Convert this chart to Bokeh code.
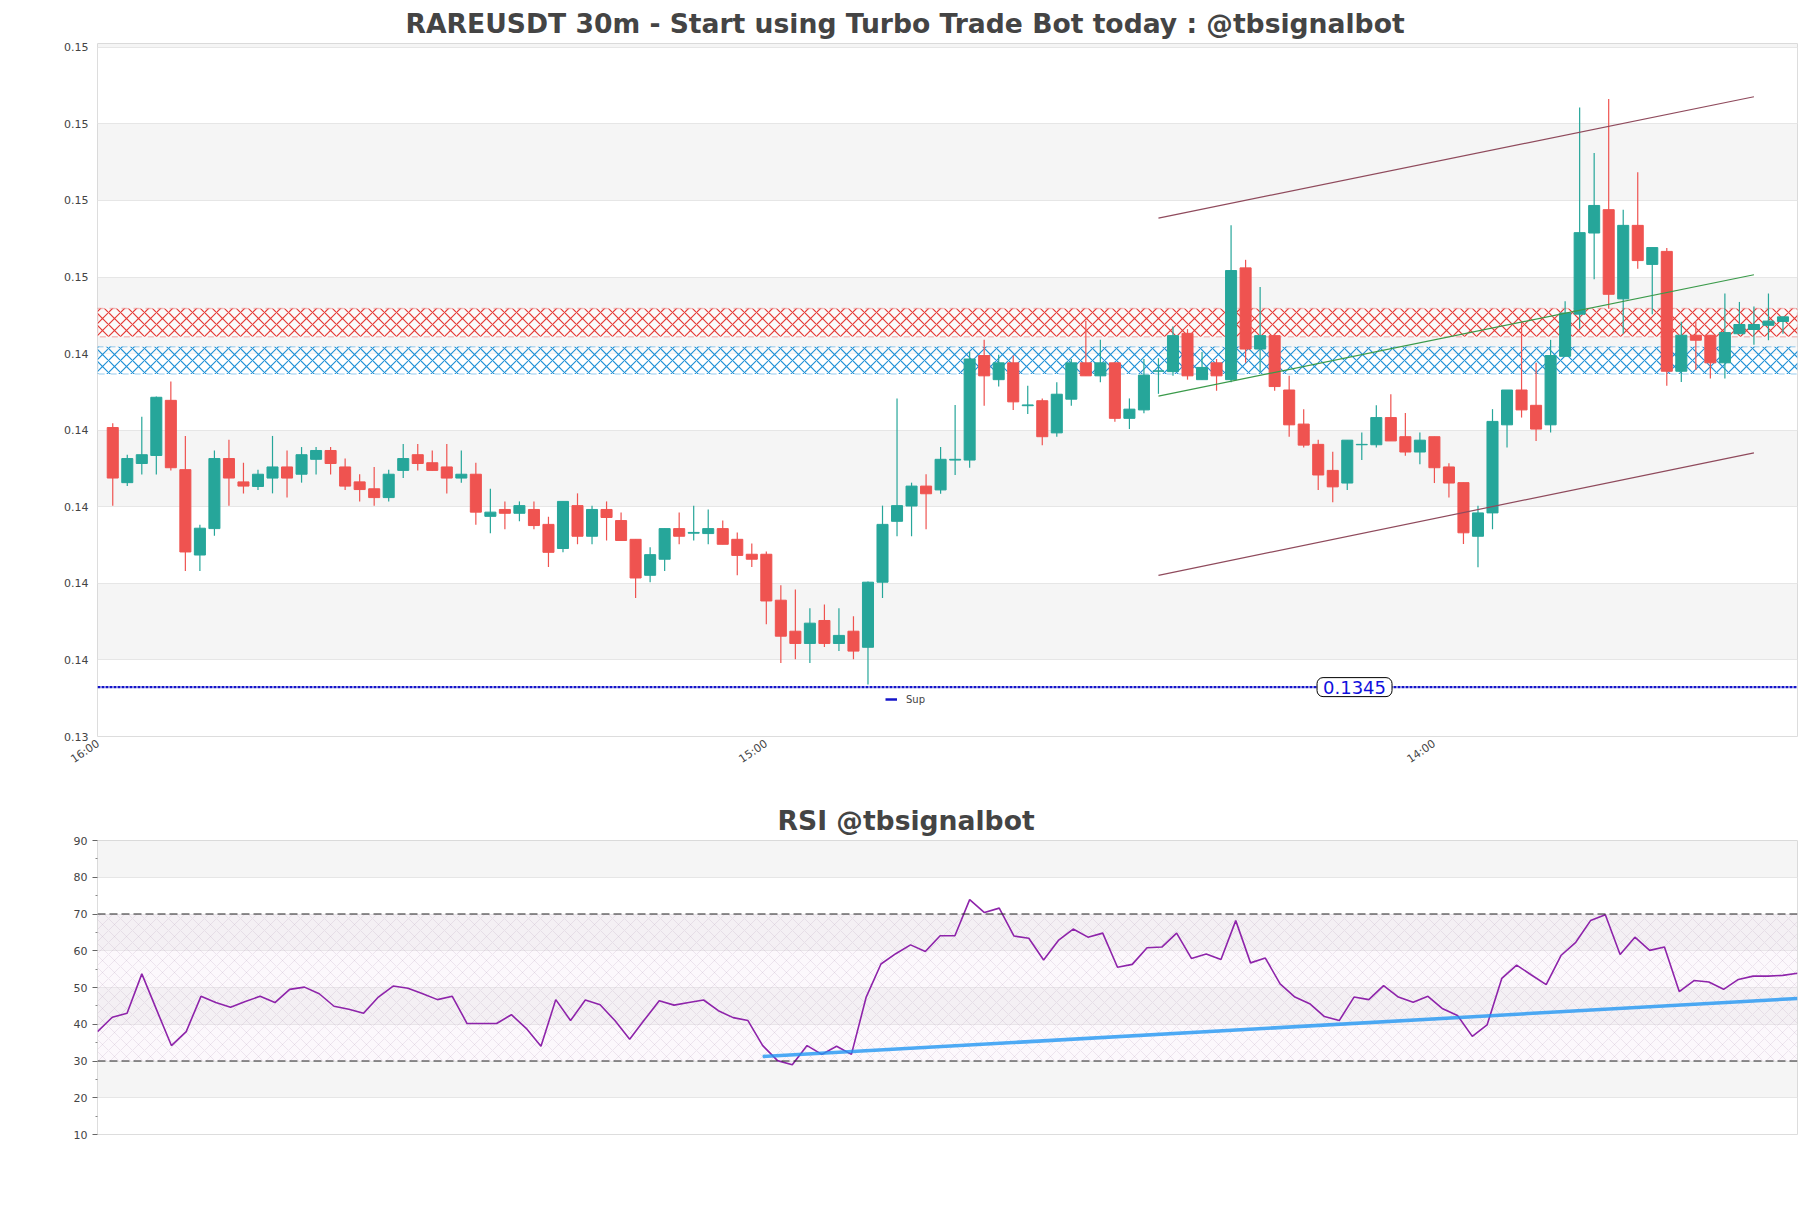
from bokeh.plotting import figure
from bokeh.models import (Range1d, FixedTicker, BoxAnnotation, Span, Label,
                          Legend, LegendItem, ColumnDataSource)
from bokeh.layouts import column
from bokeh.embed import file_html
from bokeh.resources import INLINE

# ---------------- data ----------------
opens = [0.14207, 0.14063, 0.14113, 0.14134, 0.14278, 0.14097, 0.13874, 0.13943, 0.14126, 0.14065,
         0.14053, 0.14075, 0.14104, 0.14085, 0.14124, 0.14147, 0.14104, 0.14065, 0.14047, 0.14024,
         0.14095, 0.14136, 0.14115, 0.14104, 0.14075, 0.14085, 0.13975, 0.13993, 0.13983, 0.13993,
         0.13954, 0.13891, 0.14003, 0.13923, 0.13993, 0.13964, 0.13915, 0.13821, 0.13863, 0.13943,
         0.13931, 0.13930, 0.13943, 0.13915, 0.13876, 0.13876, 0.13756, 0.13675, 0.13643, 0.13703,
         0.13643, 0.13675, 0.13633, 0.13803, 0.13962, 0.14002, 0.14054, 0.14044, 0.14122, 0.14122,
         0.14395, 0.14332, 0.14376, 0.14264, 0.14277, 0.14193, 0.14281, 0.14376, 0.14342, 0.14376,
         0.14231, 0.14253, 0.14354, 0.14353, 0.14453, 0.14332, 0.14376, 0.14332, 0.14624, 0.14412,
         0.14447, 0.14305, 0.14216, 0.14163, 0.14095, 0.14062, 0.14162, 0.14162, 0.14233, 0.14183,
         0.14143, 0.14183, 0.14104, 0.14063, 0.13923, 0.13984, 0.14214, 0.14305, 0.14265, 0.14214,
         0.14393, 0.14503, 0.14715, 0.14776, 0.14543, 0.14735, 0.14633, 0.14667, 0.14354, 0.14448,
         0.14448, 0.14376, 0.14452, 0.14463, 0.14474, 0.14484]
highs = [0.14218, 0.14136, 0.14235, 0.14288, 0.14327, 0.14185, 0.13953, 0.14147, 0.14175, 0.14115,
         0.14097, 0.14185, 0.14147, 0.14156, 0.14156, 0.14156, 0.14126, 0.14085, 0.14104, 0.14097,
         0.14164, 0.14164, 0.14147, 0.14164, 0.14147, 0.14115, 0.14047, 0.14014, 0.14014, 0.14014,
         0.13974, 0.14014, 0.14035, 0.14003, 0.14014, 0.13985, 0.13915, 0.13894, 0.13943, 0.13985,
         0.14003, 0.13993, 0.13964, 0.13933, 0.13904, 0.13883, 0.13795, 0.13784, 0.13735, 0.13745,
         0.13735, 0.13714, 0.13805, 0.14003, 0.14283, 0.14063, 0.14085, 0.14156, 0.14266, 0.14404,
         0.14436, 0.14397, 0.14395, 0.14316, 0.14283, 0.14325, 0.14386, 0.14486, 0.14436, 0.14376,
         0.14283, 0.14386, 0.14388, 0.14471, 0.14464, 0.14404, 0.14386, 0.14735, 0.14645, 0.14574,
         0.14452, 0.14342, 0.14255, 0.14175, 0.14144, 0.14174, 0.14194, 0.14265, 0.14294, 0.14245,
         0.14194, 0.14183, 0.14114, 0.14063, 0.14003, 0.14255, 0.14305, 0.14482, 0.14376, 0.14436,
         0.14537, 0.15043, 0.14924, 0.15065, 0.14776, 0.14874, 0.14677, 0.14676, 0.14483, 0.14483,
         0.14448, 0.14557, 0.14535, 0.14523, 0.14557, 0.14496]
lows = [0.14003, 0.14054, 0.14084, 0.14084, 0.14095, 0.13832, 0.13832, 0.13924, 0.14003, 0.14035,
        0.14044, 0.14035, 0.14024, 0.14063, 0.14084, 0.14084, 0.14044, 0.14014, 0.14003, 0.14014,
        0.14075, 0.14095, 0.14095, 0.14035, 0.14063, 0.13953, 0.13931, 0.13941, 0.13962, 0.13941,
        0.13843, 0.13881, 0.13902, 0.13902, 0.13912, 0.13912, 0.13762, 0.13803, 0.13832, 0.13902,
        0.13912, 0.13902, 0.13902, 0.13821, 0.13843, 0.13693, 0.13592, 0.13602, 0.13592, 0.13634,
        0.13623, 0.13602, 0.13536, 0.13762, 0.13923, 0.13923, 0.13941, 0.14034, 0.14083, 0.14102,
        0.14264, 0.14314, 0.14253, 0.14242, 0.14161, 0.14183, 0.14264, 0.14342, 0.14325, 0.14222,
        0.14203, 0.14244, 0.14295, 0.14342, 0.14332, 0.14332, 0.14303, 0.14325, 0.14376, 0.14351,
        0.14303, 0.14183, 0.14155, 0.14044, 0.14012, 0.14044, 0.14122, 0.14155, 0.14172, 0.14133,
        0.14111, 0.14062, 0.14024, 0.13903, 0.13842, 0.13941, 0.14155, 0.14233, 0.14172, 0.14194,
        0.14393, 0.14465, 0.14594, 0.14517, 0.14452, 0.14622, 0.14503, 0.14316, 0.14326, 0.14357,
        0.14335, 0.14335, 0.14452, 0.14423, 0.14435, 0.14452]
closes = [0.14075, 0.14126, 0.14136, 0.14286, 0.14102, 0.13882, 0.13944, 0.14126, 0.14075, 0.14054,
          0.14085, 0.14104, 0.14075, 0.14136, 0.14147, 0.14113, 0.14054, 0.14045, 0.14024, 0.14085,
          0.14126, 0.14113, 0.14095, 0.14075, 0.14085, 0.13986, 0.13986, 0.13983, 0.14003, 0.13951,
          0.13881, 0.14014, 0.13923, 0.13993, 0.13972, 0.13912, 0.13814, 0.13875, 0.13943, 0.13923,
          0.13933, 0.13943, 0.13902, 0.13873, 0.13863, 0.13754, 0.13662, 0.13643, 0.13696, 0.13643,
          0.13664, 0.13623, 0.13803, 0.13954, 0.14003, 0.14054, 0.14034, 0.14124, 0.14124, 0.14386,
          0.14342, 0.14376, 0.14274, 0.14266, 0.14183, 0.14294, 0.14376, 0.14342, 0.14376, 0.14231,
          0.14255, 0.14344, 0.14355, 0.14447, 0.14342, 0.14364, 0.14342, 0.14617, 0.14412, 0.14447,
          0.14314, 0.14214, 0.14161, 0.14083, 0.14052, 0.14174, 0.14163, 0.14233, 0.14172, 0.14143,
          0.14174, 0.14102, 0.14062, 0.13932, 0.13984, 0.14223, 0.14305, 0.14253, 0.14203, 0.14395,
          0.14506, 0.14716, 0.14787, 0.14555, 0.14735, 0.14643, 0.14677, 0.14354, 0.14448, 0.14435,
          0.14376, 0.14455, 0.14476, 0.14476, 0.14485, 0.14496]

rsi = [38.0, 41.9, 43.0, 53.7, 43.9, 34.2, 38.0, 47.6, 45.9, 44.6,
       46.2, 47.6, 45.9, 49.5, 50.1, 48.3, 44.9, 44.1, 43.0, 47.4,
       50.4, 49.8, 48.3, 46.7, 47.6, 40.2, 40.2, 40.2, 42.6, 38.9,
       34.0, 46.7, 41.0, 46.6, 45.3, 41.0, 35.9, 41.2, 46.4, 45.2,
       45.9, 46.6, 43.7, 41.8, 41.0, 34.2, 30.1, 29.0, 34.2, 31.8,
       34.0, 31.8, 47.4, 56.4, 59.2, 61.6, 59.8, 64.1, 64.1, 73.9,
       70.4, 71.6, 64.0, 63.4, 57.5, 62.8, 65.9, 63.7, 64.8, 55.5,
       56.3, 60.8, 61.0, 64.8, 57.9, 59.1, 57.6, 68.2, 56.7, 58.0,
       51.0, 47.4, 45.6, 42.1, 41.0, 47.4, 46.7, 50.5, 47.4, 46.0,
       47.6, 44.2, 42.4, 36.7, 39.8, 52.5, 56.1, 53.4, 50.8, 58.7,
       62.3, 68.2, 69.8, 59.0, 63.7, 60.1, 61.0, 48.9, 51.9, 51.5,
       49.5, 52.2, 53.1, 53.1, 53.3, 53.9]

channel_x = [72, 113]
channel_upper = [0.14754, 0.15071]
channel_lower = [0.13821, 0.14141]
trend_green = [0.14289, 0.14606]

resistance_zone = [0.14444, 0.14518]
support_zone = [0.14347, 0.14418]
support_level = 0.13529
support_label = "0.1345"
support_label_x = 85.5

rsi_trend_x = [45, 115]
rsi_trend_y = [31.2, 47.0]
rsi_levels = [30, 70]

x_tick_pos = [-1, 45, 91]
x_tick_labels = ["16:00", "15:00", "14:00"]
y_tick_vals = [0.134, 0.136, 0.138, 0.140, 0.142, 0.144, 0.146, 0.148, 0.150, 0.152]
y_tick_labels = ["0.13", "0.14", "0.14", "0.14", "0.14", "0.14", "0.15", "0.15", "0.15", "0.15"]
rsi_ticks = [10, 20, 30, 40, 50, 60, 70, 80, 90]
rsi_minor = [15, 25, 35, 45, 55, 65, 75, 85]

GREEN = "#26a69a"
RED = "#ef5350"
FONT = "DejaVu Sans"

n = len(opens)
idx = list(range(n))
colors = [GREEN if c >= o else RED for o, c in zip(opens, closes)]
src = ColumnDataSource(dict(x=idx, o=opens, h=highs, l=lows, c=closes,
                            top=[max(o, c) for o, c in zip(opens, closes)],
                            bot=[min(o, c) for o, c in zip(opens, closes)],
                            color=colors))

# ---------------- main chart ----------------
p = figure(width=1800, height=786, output_backend="svg", toolbar_location=None,
           x_range=Range1d(-1.05, 116.0), y_range=Range1d(y_tick_vals[0], 0.15210),
           title="RAREUSDT 30m - Start using Turbo Trade Bot today : @tbsignalbot",
           min_border_left=97, min_border_right=3, min_border_top=36, min_border_bottom=50)
p.title.text_font = FONT
p.title.text_font_size = "26.6px"
p.title.text_color = "#444444"
p.title.align = "left"
p.title.offset = 308
p.outline_line_color = "#dddddd"
p.background_fill_color = "white"
p.border_fill_color = "white"

p.xgrid.visible = False
p.ygrid.grid_line_color = "#e6e6e6"
p.ygrid.band_fill_color = "gray"
p.ygrid.band_fill_alpha = 0.08

p.yaxis.ticker = FixedTicker(ticks=y_tick_vals, minor_ticks=[])
p.yaxis.major_label_overrides = {v: s for v, s in zip(y_tick_vals, y_tick_labels)}
p.yaxis.axis_line_color = None
p.yaxis.major_tick_line_color = None
p.yaxis.minor_tick_line_color = None
p.yaxis.major_tick_out = 4
p.yaxis.major_label_text_font = FONT
p.yaxis.major_label_text_font_size = "11px"
p.yaxis.major_label_text_color = "#444444"

p.xaxis.ticker = FixedTicker(ticks=x_tick_pos, minor_ticks=[])
p.xaxis.major_label_overrides = {v: s for v, s in zip(x_tick_pos, x_tick_labels)}
p.xaxis.major_label_orientation = 0.6
p.xaxis.axis_line_color = None
p.xaxis.major_tick_line_color = None
p.xaxis.minor_tick_line_color = None
p.xaxis.major_tick_out = 0
p.xaxis.major_label_standoff = 6
p.xaxis.major_label_text_font = FONT
p.xaxis.major_label_text_font_size = "11px"
p.xaxis.major_label_text_color = "#444444"

# zones
p.add_layout(BoxAnnotation(bottom=resistance_zone[0], top=resistance_zone[1], level="underlay",
                           fill_color="white", fill_alpha=0.5,
                           hatch_pattern="x", hatch_color="#e53935", hatch_alpha=1.0,
                           hatch_scale=12, hatch_weight=1.2,
                           line_color="#e53935", line_dash="dashed", line_width=1.5))
p.add_layout(BoxAnnotation(bottom=support_zone[0], top=support_zone[1], level="underlay",
                           fill_color="white", fill_alpha=0.5,
                           hatch_pattern="x", hatch_color="#1e90d6", hatch_alpha=1.0,
                           hatch_scale=12, hatch_weight=1.2,
                           line_color="#1e90d6", line_dash="dashed", line_width=1.5))

# candles
p.segment(x0="x", y0="h", x1="x", y1="l", color="color", line_width=1.2, source=src)
p.vbar(x="x", width=0.76, top="top", bottom="bot", fill_color="color", line_color="color",
       line_width=1, source=src)

# trend channel
p.line(channel_x, channel_upper, line_color="#8f4a5c", line_width=1.2)
p.line(channel_x, channel_lower, line_color="#8f4a5c", line_width=1.2)
p.line(channel_x, trend_green, line_color="#3a9a4a", line_width=1.2)

# support line
xr = p.x_range
p.line([xr.start, xr.end], [support_level, support_level], line_color="#1414c8",
       line_width=2.2, line_dash="3 1")
sup_key = p.line([xr.start], [support_level], line_color="#1414c8", line_width=2.5)
legend = Legend(items=[LegendItem(label="Sup", renderers=[sup_key])], location=(788, 31),
                background_fill_alpha=0, border_line_alpha=0, padding=0, margin=0,
                glyph_width=12, glyph_height=12, label_standoff=9,
                label_text_font=FONT, label_text_font_size="10px", label_height=12)
p.add_layout(legend)
p.add_layout(Label(x=support_label_x, y=support_level, text=support_label,
                   text_align="center", text_baseline="middle",
                   text_font=FONT, text_font_size="18px", text_color="#1010dd",
                   background_fill_color="white", border_line_color="black",
                   border_line_width=1, border_radius=6, padding=(6, 3)))

# ---------------- RSI chart ----------------
r = figure(width=1800, height=388, output_backend="svg", toolbar_location=None,
           x_range=Range1d(0, n - 1), y_range=Range1d(10, 90),
           title="RSI @tbsignalbot",
           min_border_left=97, min_border_right=3, min_border_top=54, min_border_bottom=40)
r.title.text_font = FONT
r.title.text_font_size = "26.6px"
r.title.text_color = "#444444"
r.title.align = "left"
r.title.offset = 680
r.outline_line_color = "#dddddd"
r.xgrid.visible = False
r.xaxis.visible = False
r.ygrid.grid_line_color = "#e6e6e6"
r.ygrid.band_fill_color = "gray"
r.ygrid.band_fill_alpha = 0.08
r.yaxis.ticker = FixedTicker(ticks=rsi_ticks, minor_ticks=rsi_minor)
r.yaxis.axis_line_color = None
r.yaxis.major_tick_line_color = "#666666"
r.yaxis.minor_tick_line_color = "#888888"
r.yaxis.major_tick_out = 5
r.yaxis.major_tick_in = 0
r.yaxis.minor_tick_out = 2
r.yaxis.minor_tick_in = 0
r.yaxis.major_label_text_font = FONT
r.yaxis.major_label_text_font_size = "11px"
r.yaxis.major_label_text_color = "#444444"

r.add_layout(BoxAnnotation(bottom=rsi_levels[0], top=rsi_levels[1], level="underlay",
                           fill_color="#f3e5f5", fill_alpha=0.25,
                           hatch_pattern="x", hatch_color="#b39ab8", hatch_alpha=0.35,
                           hatch_scale=12, hatch_weight=0.6, line_color=None))
for lv in rsi_levels:
    r.add_layout(Span(location=lv, dimension="width", line_color="#222222",
                      line_dash="8 4", line_width=1.2))

r.line(idx, rsi, line_color="#8e24aa", line_width=1.6)
r.line(rsi_trend_x, rsi_trend_y, line_color="#2196f3", line_alpha=0.8, line_width=3.5)

layout = column(p, r)
open("out.html", "w").write(file_html(layout, INLINE))
